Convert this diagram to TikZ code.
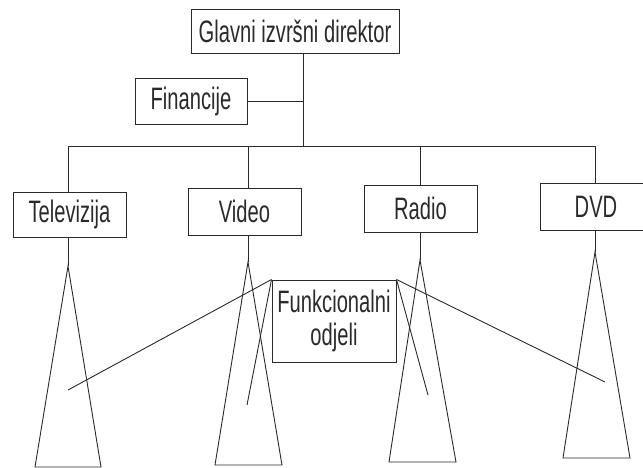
\documentclass[tikz,border=0pt]{standalone}
\usepackage{fontspec}
\setmainfont{Liberation Sans}[FakeStretch=0.65]
\definecolor{ink}{HTML}{2A2A2A}
\begin{document}
\begin{tikzpicture}[x=1pt,y=-1pt,
  box/.style={draw=ink,line width=1pt,rectangle,inner sep=0pt,text=ink,
    font=\fontsize{31}{33}\selectfont,align=center},
  ln/.style={draw=ink,line width=0.9pt}]
\useasboundingbox (0,0) rectangle (643,467);
% boxes
\node[box,minimum width=208pt,minimum height=44pt] (ceo) at (295,31) {Glavni izvršni direktor};
\node[box,minimum width=112pt,minimum height=46pt] (fin) at (191,101) {Financije};
\node[box,minimum width=113pt,minimum height=45pt] (tv) at (69.5,214.5) {Televizija};
\node[box,minimum width=113pt,minimum height=47pt] (vid) at (244.5,211.5) {Video};
\node[box,minimum width=113pt,minimum height=47pt] (rad) at (420.5,208.5) {Radio};
\node[box,minimum width=112pt,minimum height=47pt] (dvd) at (596,206.5) {DVD};
\node[box,minimum width=124pt,minimum height=82pt] (fo) at (334,321) {Funkcionalni\\odjeli};
% coordinates
\coordinate (bus) at (303,146);
\coordinate (busL) at (68,146);
\coordinate (busR) at (595,146);
\coordinate (tvA) at (68,266);
\coordinate (vidA) at (248,262);
\coordinate (radA) at (420,260);
\coordinate (dvdA) at (595,252);
\coordinate (tvL) at (35,467);  \coordinate (tvR) at (101,467);
\coordinate (vidL) at (215,465); \coordinate (vidR) at (282,465);
\coordinate (radL) at (389,462); \coordinate (radR) at (456,462);
\coordinate (dvdL) at (563,458); \coordinate (dvdR) at (630,458);
\coordinate (e1) at (68,390);
\coordinate (e2) at (247,405);
\coordinate (e3) at (428,395);
\coordinate (e4) at (605,382);
% hierarchy lines
\draw[ln] (bus |- ceo.south) -- (bus);
\draw[ln] (fin.east) -- (fin.east -| bus);
\draw[ln] (busL) -- (busR);
\draw[ln] (busL) -- (busL |- tv.north);
\draw[ln] (vidA |- busL) -- (vidA |- vid.north);
\draw[ln] (radA |- busL) -- (radA |- rad.north);
\draw[ln] (busR) -- (busR |- dvd.north);
% stems and triangles
\draw[ln] (tvA |- tv.south) -- (tvA);
\draw[ln] (vidA |- vid.south) -- (vidA);
\draw[ln] (radA |- rad.south) -- (radA);
\draw[ln] (dvdA |- dvd.south) -- (dvdA);
\draw[ln] (tvL) -- (tvA) -- (tvR) -- cycle;
\draw[ln] (vidL) -- (vidA) -- (vidR) -- cycle;
\draw[ln] (radL) -- (radA) -- (radR) -- cycle;
\draw[ln] (dvdL) -- (dvdA) -- (dvdR) -- cycle;
% functional lines
\draw[ln] (fo.north west) -- (e1);
\draw[ln] (fo.north west) -- (e2);
\draw[ln] (fo.north east) -- (e3);
\draw[ln] (fo.north east) -- (e4);
\end{tikzpicture}
\end{document}
